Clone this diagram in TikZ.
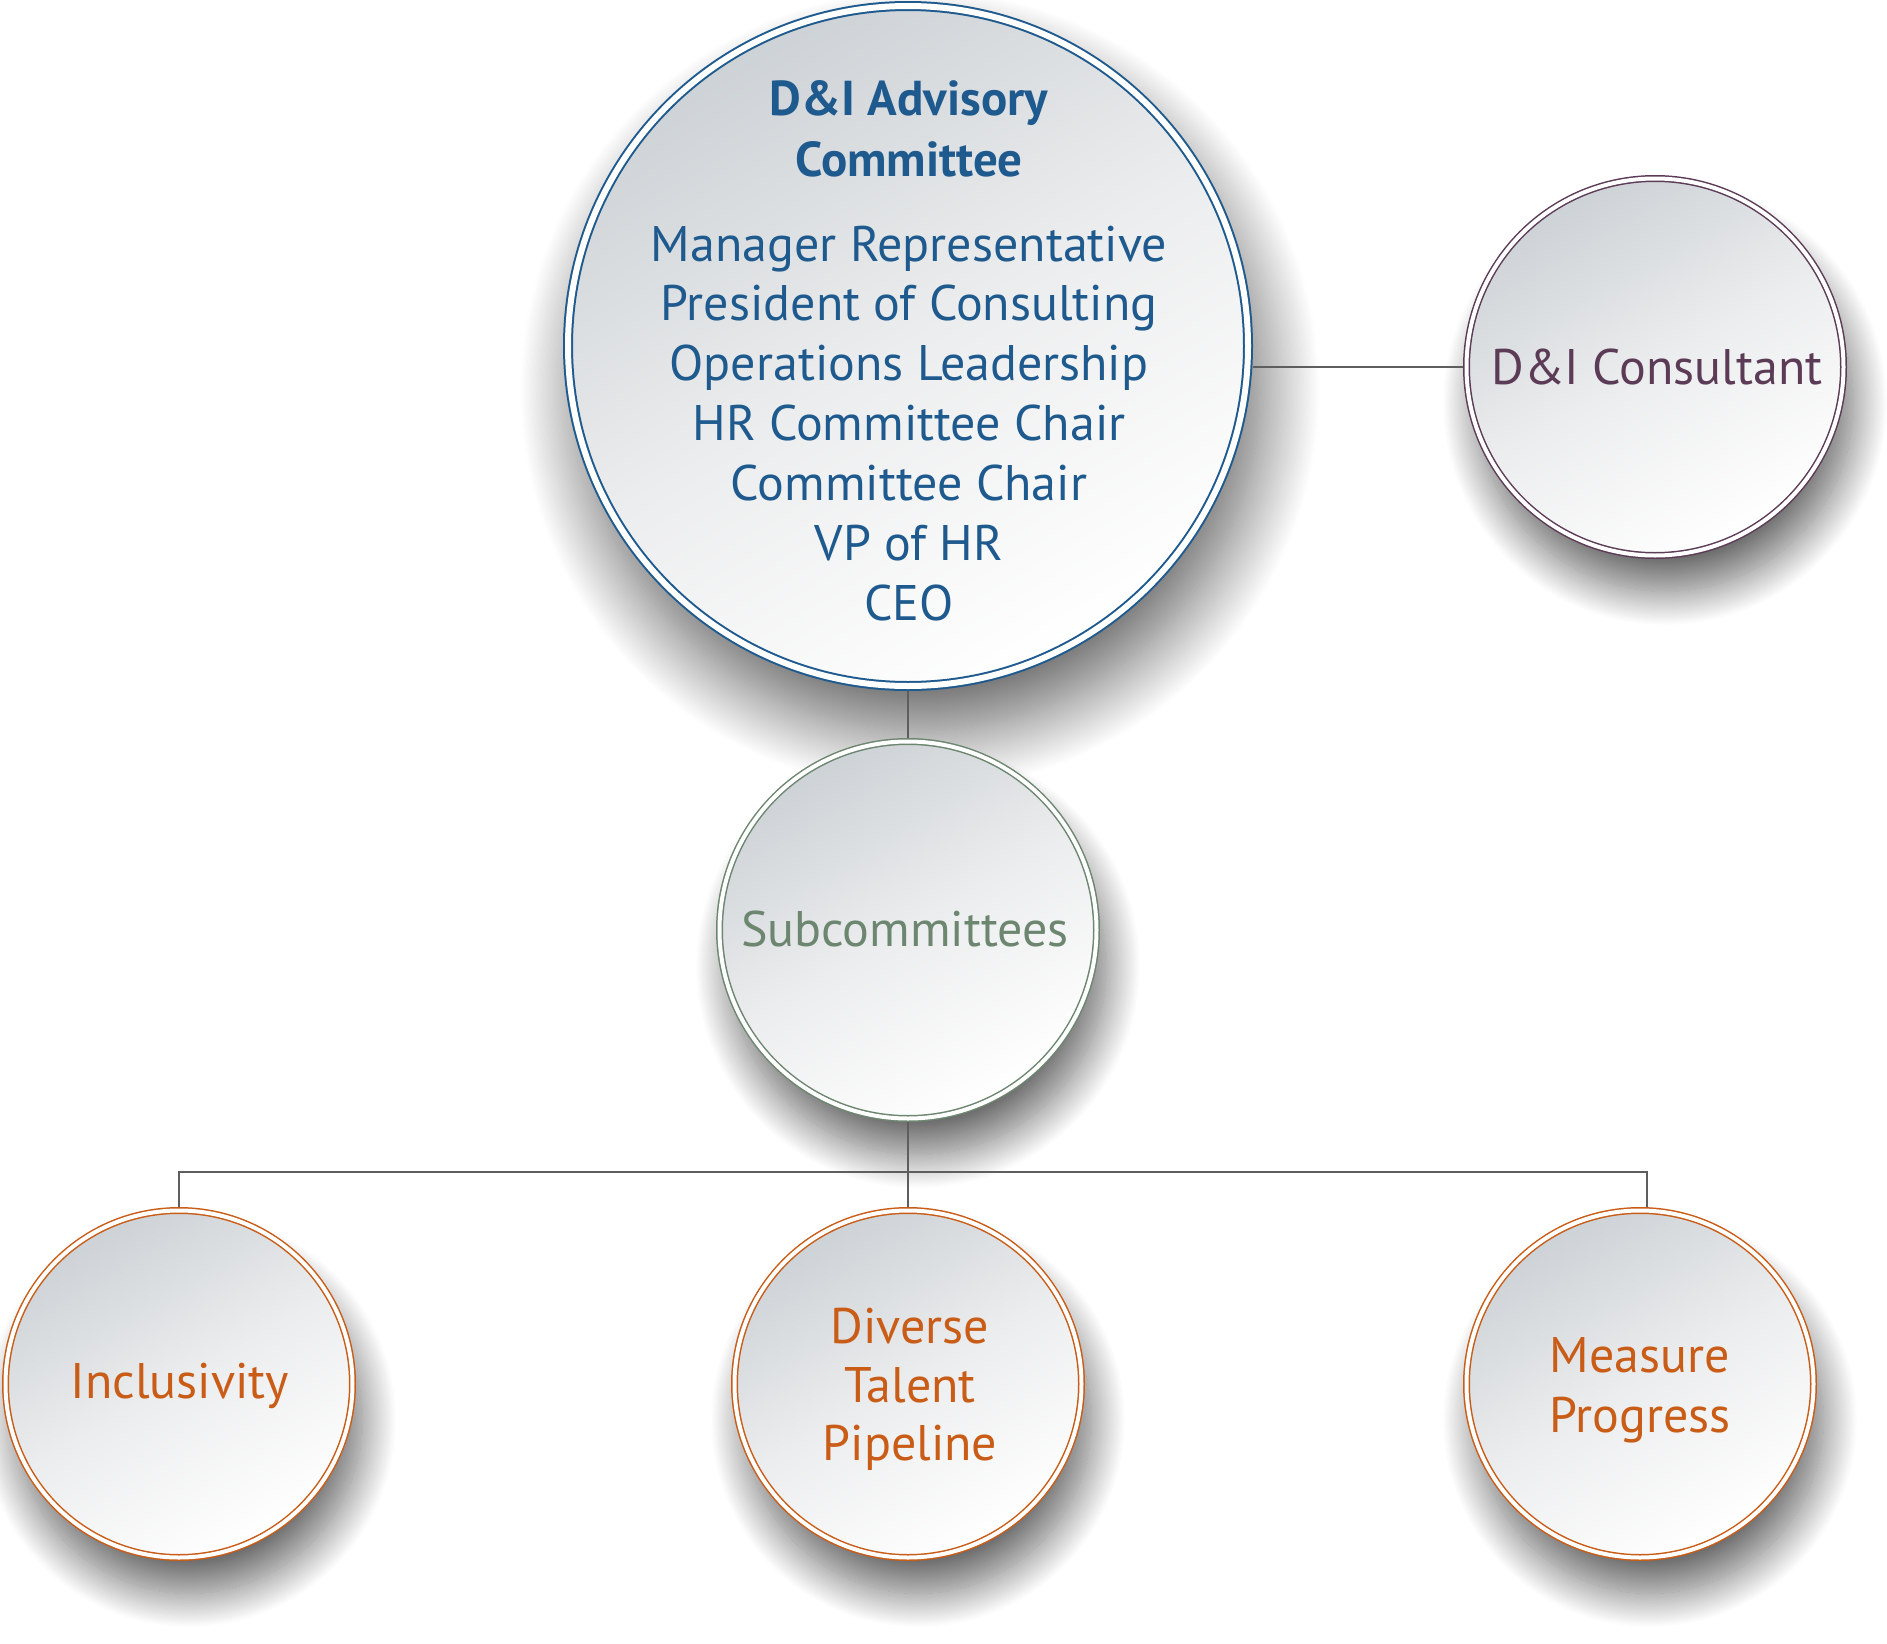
\documentclass[tikz,border=0pt]{standalone}
\usepackage{fontspec}
\setmainfont{PT Sans}
\usetikzlibrary{shadows.blur}
\definecolor{cblue}{HTML}{1F5A8E}
\definecolor{cpurple}{HTML}{5C3B57}
\definecolor{cgreen}{HTML}{6D8670}
\definecolor{corange}{HTML}{C95C17}
\definecolor{cline}{HTML}{5E5E5E}
\definecolor{cgray}{HTML}{CDD2D6}
\definecolor{cmid}{HTML}{ECEDEE}
\tikzset{
  bubble/.style={circle, inner sep=0pt, top color=cgray, bottom color=white, middle color=cmid,
    shading angle=30, double=white, blur shadow={#1}},
  bubble/.default={shadow xshift=5pt, shadow yshift=-18pt, shadow blur radius=17pt, shadow blur steps=40, shadow opacity=58},
  bigbubble/.style={bubble={shadow xshift=6pt, shadow yshift=-22pt, shadow blur radius=30pt, shadow blur steps=50, shadow opacity=62},
    draw=cblue, line width=1pt, double distance=3pt, minimum size=340pt, outer sep=2.5pt},
  midbubble/.style={bubble, line width=0.75pt, double distance=2pt, minimum size=188.5pt, outer sep=1.75pt},
  smallbubble/.style={bubble, draw=corange, line width=0.75pt, double distance=2pt, minimum size=173.5pt, outer sep=1.75pt},
  lbl/.style={anchor=base, inner sep=0pt, font=\fontsize{25}{30}\selectfont},
  ttl/.style={anchor=base, inner sep=0pt, text=cblue, font=\fontsize{24.5}{30}\selectfont\bfseries},
  conn/.style={draw=cline, line width=1pt},
  bus/.style={draw=cline, line width=0.8pt},
}
\begin{document}
\begin{tikzpicture}[x=0.5pt,y=-0.5pt]
\useasboundingbox (0,0) rectangle (1887,1644);
% circles
\node[bigbubble] (main) at (908,346) {};
\node[midbubble, draw=cpurple] (cons) at (1655,367) {};
\node[midbubble, draw=cgreen] (sub) at (908,930) {};
\node[smallbubble] (incl) at (179,1384) {};
\node[smallbubble] (div) at (908,1384) {};
\node[smallbubble] (meas) at (1640,1384) {};
% connectors
\coordinate (bus) at (908,1172);
\draw[conn] (cons.west) -- (cons.west -| main.east);
\draw[conn] (main.south) -- (sub.north);
\draw[conn] (sub.south) -- (div.north);
\draw[bus] (incl.north) |- (bus) -| ([xshift=3.5pt]meas.north);
% texts
\node[ttl] (t1) at (909,115) {D\&I Advisory};
\node[ttl] (t2) at (909,176) {Committee};
\node[lbl, text=cblue] (m1) at (909,261) {Manager Representative};
\node[lbl, text=cblue] (m2) at (909,320) {President of Consulting};
\node[lbl, text=cblue] (m3) at (909,380) {Operations Leadership};
\node[lbl, text=cblue] (m4) at (909,440) {HR Committee Chair};
\node[lbl, text=cblue] (m5) at (909,500) {Committee Chair};
\node[lbl, text=cblue] (m6) at (909,560) {VP of HR};
\node[lbl, text=cblue] (m7) at (909,620) {CEO};
\node[lbl, text=cpurple] (c1) at (1657,384) {D\&I Consultant};
\node[lbl, text=cgreen] (s1) at (905,946) {Subcommittees};
\node[lbl, text=corange] (i1) at (180,1398) {Inclusivity};
\node[lbl, text=corange] (d1) at (910,1343) {Diverse};
\node[lbl, text=corange] (d2) at (910,1402) {Talent};
\node[lbl, text=corange] (d3) at (910,1460) {Pipeline};
\node[lbl, text=corange] (p1) at (1640,1372) {Measure};
\node[lbl, text=corange] (p2) at (1640,1432) {Progress};
\end{tikzpicture}
\end{document}
